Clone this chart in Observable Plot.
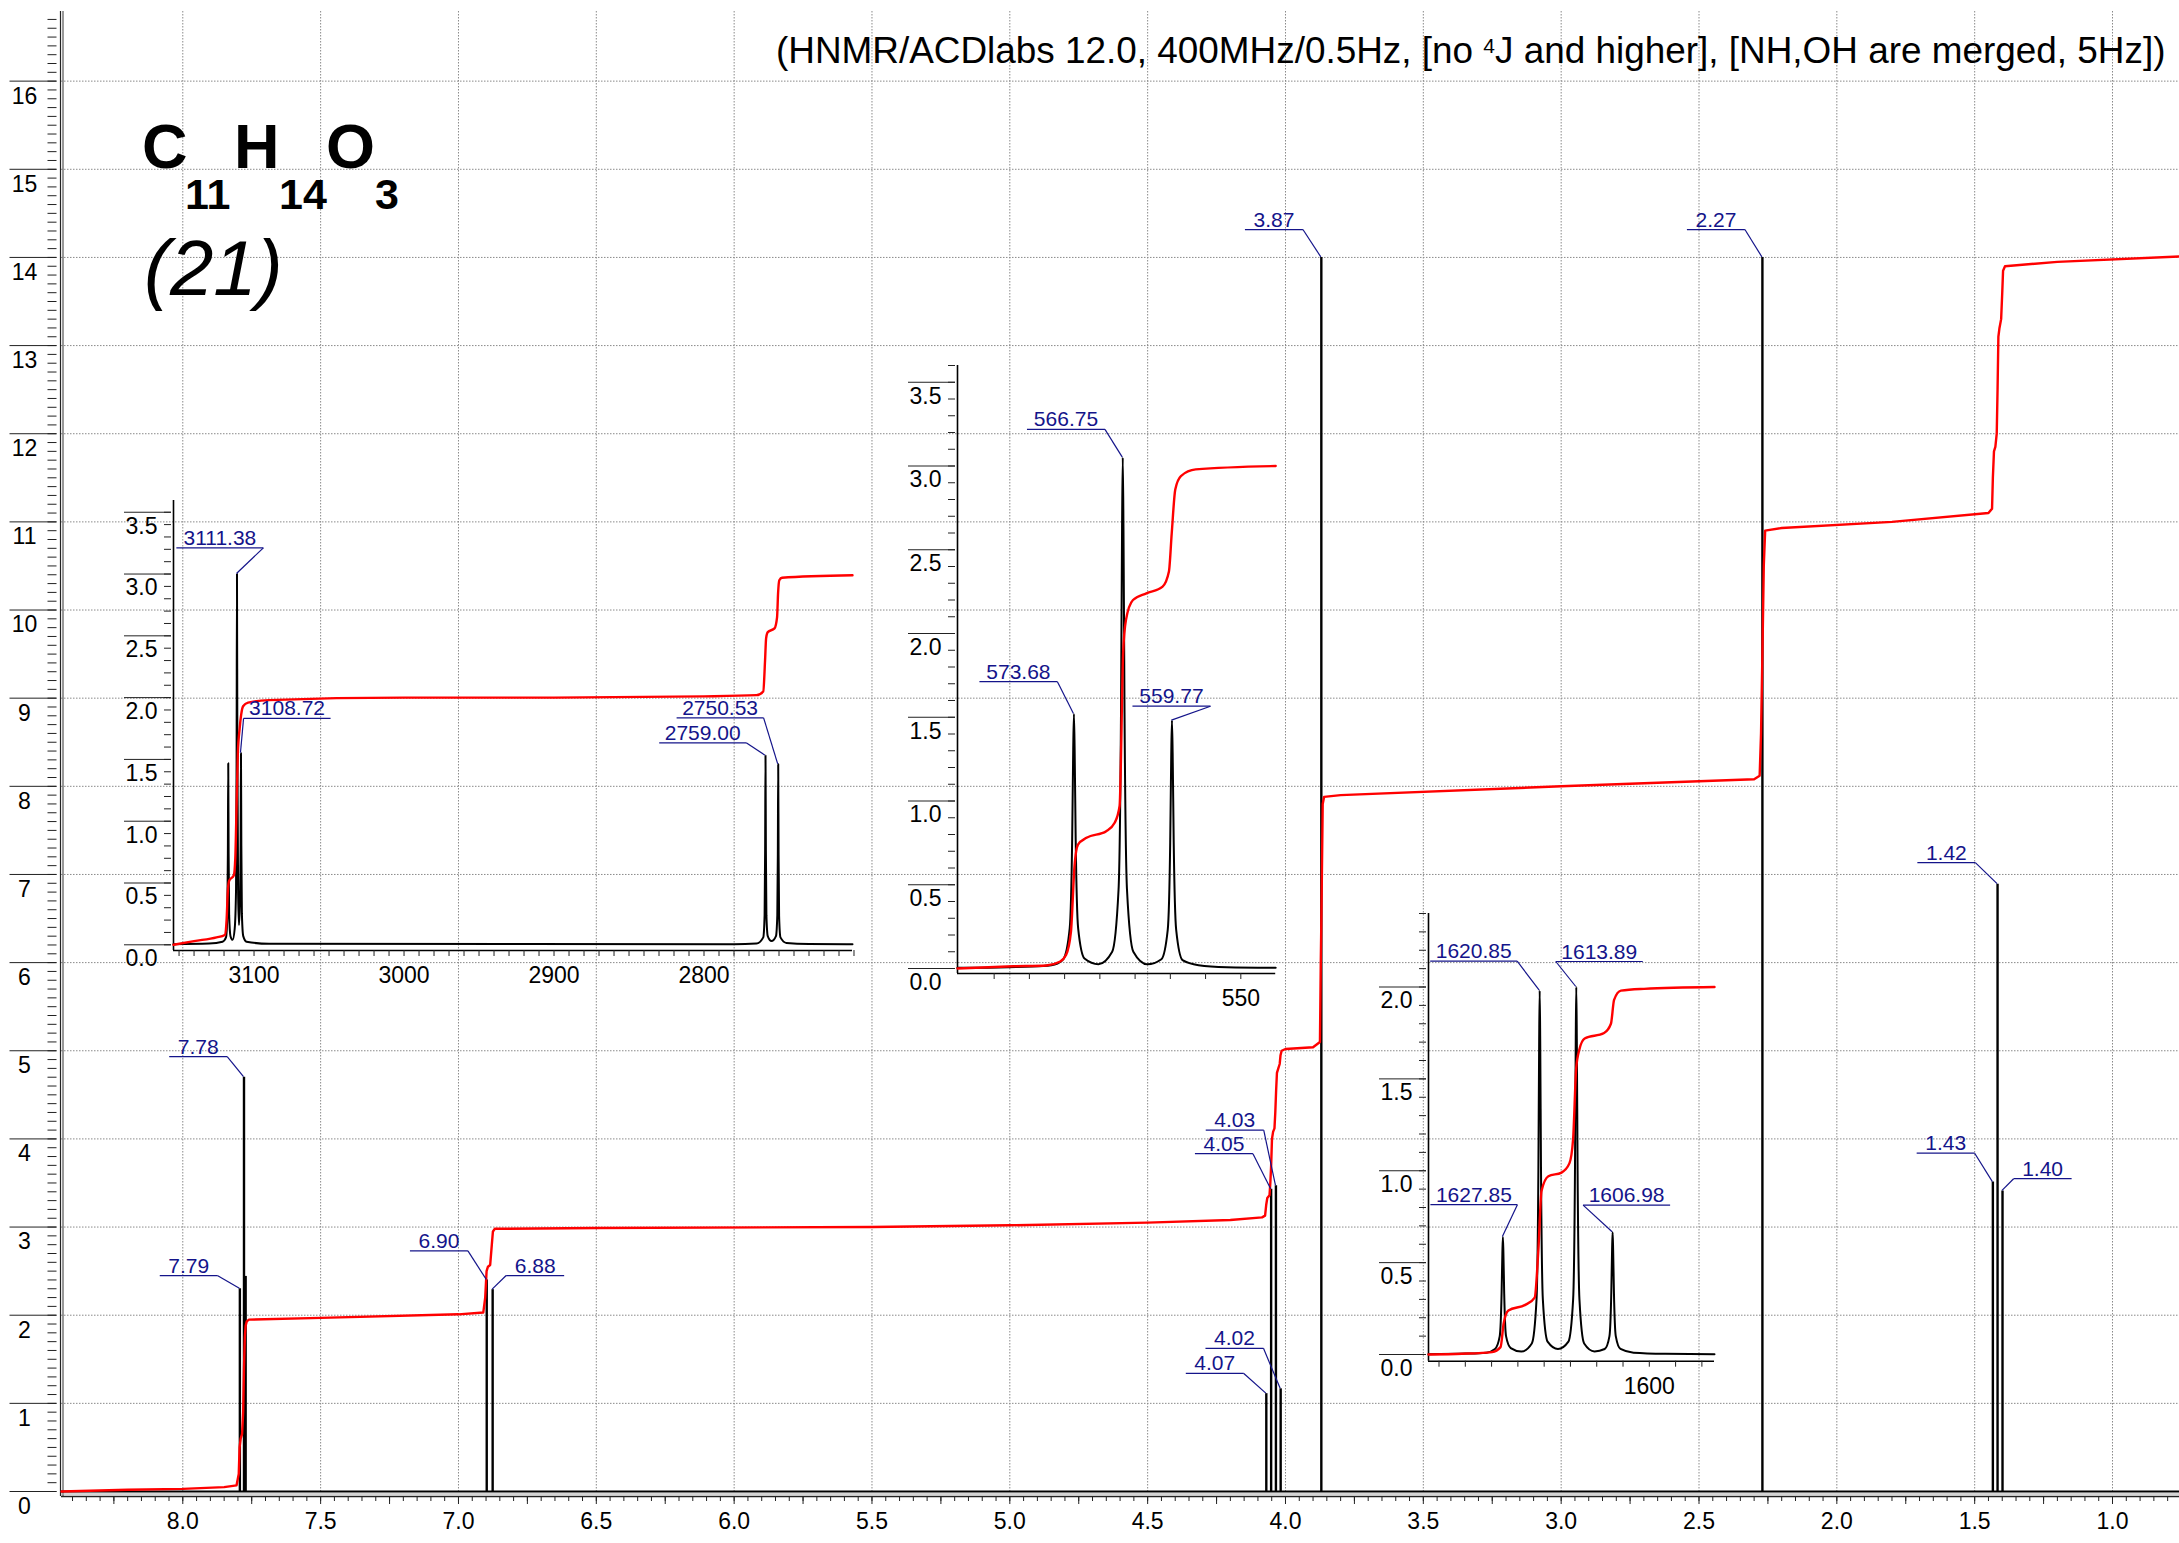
<!DOCTYPE html>
<html><head><meta charset="utf-8">
<script src="https://cdn.jsdelivr.net/npm/d3@7"></script>
<script src="https://cdn.jsdelivr.net/npm/@observablehq/plot@0.6"></script>
<style>
html,body{margin:0;padding:0;background:#fff;}
#wrap{position:relative;width:2179px;height:1543px;overflow:hidden;}
#wrap svg{position:absolute;}
</style></head><body><div id="wrap"></div>
<script>
const FONT = '"Liberation Sans", Arial, Helvetica, sans-serif';
const NAVY = "#14148a";
const TICKFONT = 23;

// ---------- main spectrum data (ppm) ----------
const mainShift  = [7.793, 7.778, 7.772, 6.8975, 6.876, 4.0696, 4.0521, 4.0347, 4.0175, 3.870, 2.270, 1.434, 1.417, 1.399];
const mainHeight = [2.30, 4.70, 2.44, 2.40, 2.29, 1.11, 3.43, 3.47, 1.165, 14.0, 14.0, 3.51, 6.89, 3.41];
const mainLabel  = ["7.79","7.78","","6.90","6.88","4.07","4.05","4.03","4.02","3.87","2.27","1.43","1.42","1.40"];

const integralShift = [8.44,8.2,8.0,7.85,7.805,7.797,7.794,7.79,7.785,7.781,7.778,7.775,7.772,7.768,7.76,7.5,7.0,6.91,6.903,6.898,6.893,6.885,6.879,6.875,6.868,6.5,5.5,5.0,4.5,4.2,4.085,4.074,4.07,4.066,4.058,4.055,4.052,4.049,4.045,4.04,4.037,4.034,4.031,4.026,4.021,4.018,4.014,4.0,3.9,3.875,3.872,3.870,3.868,3.865,3.86,3.8,3.0,2.3,2.28,2.275,2.27,2.265,2.26,2.2,1.8,1.45,1.437,1.434,1.43,1.425,1.42,1.417,1.414,1.41,1.404,1.40,1.397,1.39,1.2,0.757];
const integralValue = [0.0,0.02,0.03,0.05,0.07,0.2,0.5,0.6,0.65,0.9,1.4,1.75,1.88,1.93,1.95,1.97,2.01,2.03,2.2,2.5,2.55,2.57,2.8,2.95,2.98,2.99,3.0,3.02,3.05,3.08,3.11,3.13,3.25,3.33,3.36,3.5,3.7,4.0,4.08,4.12,4.3,4.55,4.75,4.8,4.85,4.95,5.0,5.02,5.04,5.1,6.0,6.45,7.0,7.8,7.88,7.9,8.0,8.08,8.12,8.6,9.5,10.5,10.9,10.93,11.0,11.1,11.15,11.5,11.8,11.85,12.0,12.5,13.1,13.2,13.3,13.6,13.85,13.9,13.95,14.01];

const xTickValues = [8.0,7.5,7.0,6.5,6.0,5.5,5.0,4.5,4.0,3.5,3.0,2.5,2.0,1.5,1.0];
const xTickLabels = ["8.0","7.5","7.0","6.5","6.0","5.5","5.0","4.5","4.0","3.5","3.0","2.5","2.0","1.5","1.0"];
const yTickValues = [0,1,2,3,4,5,6,7,8,9,10,11,12,13,14,15,16];
const yTickLabels = ["0","1","2","3","4","5","6","7","8","9","10","11","12","13","14","15","16"];

// label layout (pixel offsets of leader end from peak top, side of underline)
const mainLabelOffset = {
  "7.79":[-21.6,-12.6,"L"], "7.78":[-16.3,-20,"L"], "6.90":[-18.3,-28.6,"L"], "6.88":[14,-13.6,"R"],
  "4.07":[-22,-19.7,"L"], "4.05":[-17.7,-35,"L"], "4.03":[-11.7,-55,"L"], "4.02":[-16.7,-40,"L"],
  "3.87":[-17.9,-27.4,"L"], "2.27":[-17,-27.4,"L"], "1.43":[-17.7,-28.4,"L"], "1.42":[-21.7,-21,"L"], "1.40":[11.6,-11.7,"R"]
};

// ---------- inset 1 (Hz) ----------
const inset1TraceHz  = [3153.7,3130,3121,3118.7,3117.8,3117.45,3117.2,3116.95,3116.6,3115.7,3114.3,3112.9,3112.0,3111.63,3111.38,3111.13,3110.6,3110.05,3109.4,3108.97,3108.72,3108.47,3108.1,3107.2,3105,3090,2780,2765,2760.5,2759.6,2759.25,2759.0,2758.75,2758.4,2757.5,2755,2752.03,2751.13,2750.78,2750.53,2750.28,2749.93,2749.03,2745,2730,2701];
const inset1TraceVal = [0.005,0.01,0.025,0.06,0.24,0.74,1.47,0.74,0.24,0.07,0.04,0.13,0.45,1.5,3.0,1.6,0.4,0.16,0.35,0.8,1.55,0.8,0.25,0.07,0.025,0.008,0.005,0.01,0.06,0.24,0.77,1.53,0.77,0.24,0.07,0.03,0.07,0.24,0.73,1.46,0.73,0.23,0.06,0.015,0.006,0.004];
const inset1IntHz  = [3153.7,3140,3125,3119.5,3118.3,3117.4,3116.5,3113.5,3112.5,3111.6,3110.8,3109.6,3108.6,3107.3,3104,3090,3000,2900,2800,2765,2760.5,2759.3,2758.6,2757.5,2753,2751.3,2750.6,2749.8,2748,2701];
const inset1IntVal = [0.0,0.03,0.06,0.08,0.2,0.45,0.52,0.56,0.7,1.15,1.55,1.75,1.86,1.93,1.96,1.98,2.0,2.0,2.01,2.02,2.05,2.3,2.48,2.53,2.56,2.65,2.85,2.95,2.97,2.99];
const inset1PeakHz = [3111.38,3108.72,2759.00,2750.53];
const inset1PeakH  = [3.0,1.55,1.53,1.46];
const inset1Label  = ["3111.38","3108.72","2759.00","2750.53"];

// ---------- inset 2 (Hz) ----------
const inset2TraceHz  = [590.2,583,578,576,575.18,574.28,573.93,573.78,573.68,573.58,573.43,573.08,572.18,570.2,568.25,567.35,567.0,566.85,566.75,566.65,566.5,566.15,565.25,563.26,561.27,560.37,560.02,559.87,559.77,559.67,559.52,559.17,558.27,556,552,545.05];
const inset2TraceVal = [0.004,0.008,0.015,0.03,0.055,0.24,0.77,1.31,1.52,1.31,0.77,0.24,0.06,0.026,0.1,0.47,1.53,2.63,3.05,2.63,1.53,0.47,0.1,0.025,0.055,0.23,0.75,1.28,1.48,1.28,0.75,0.23,0.05,0.02,0.008,0.004];
const inset2IntHz  = [590.2,582.3,577.6,575.7,574.8,574.1,573.6,573.1,571.9,569.1,567.9,567.2,566.7,566.3,565.3,563.4,561.1,560.2,559.8,559.3,558.5,556.4,545.05];
const inset2IntVal = [0.0,0.013,0.018,0.04,0.08,0.22,0.61,0.74,0.78,0.82,0.87,0.97,1.88,2.08,2.2,2.24,2.28,2.37,2.6,2.86,2.94,2.98,3.0];
const inset2PeakHz = [573.68,566.75,559.77];
const inset2PeakH  = [1.52,3.05,1.48];
const inset2Label  = ["573.68","566.75","559.77"];

// ---------- inset 3 (Hz) ----------
const inset3TraceHz  = [1642.0,1635,1631,1629.35,1628.45,1628.1,1627.95,1627.85,1627.75,1627.6,1627.25,1626.35,1624.35,1622.35,1621.45,1621.1,1620.95,1620.85,1620.75,1620.6,1620.25,1619.35,1617.37,1615.39,1614.49,1614.14,1613.99,1613.89,1613.79,1613.64,1613.29,1612.39,1610.43,1608.48,1607.58,1607.23,1607.08,1606.98,1606.88,1606.73,1606.38,1605.48,1603,1597,1587.6];
const inset3TraceVal = [0.002,0.005,0.01,0.03,0.1,0.33,0.55,0.64,0.55,0.33,0.1,0.035,0.016,0.06,0.3,1.0,1.71,1.98,1.71,1.0,0.3,0.07,0.03,0.07,0.3,1.0,1.72,2.0,1.72,1.0,0.3,0.06,0.017,0.03,0.1,0.34,0.57,0.665,0.57,0.34,0.1,0.03,0.01,0.004,0.002];
const inset3IntHz  = [1642.0,1635.6,1629.9,1628.3,1627.7,1626.8,1623.6,1621.8,1621.1,1620.5,1619.2,1616.7,1615.2,1614.5,1613.9,1613.3,1612.3,1608.6,1607.3,1606.7,1605.4,1601,1587.6];
const inset3IntVal = [0.0,0.004,0.013,0.04,0.17,0.24,0.27,0.31,0.57,0.89,0.97,0.99,1.04,1.17,1.56,1.66,1.72,1.75,1.80,1.93,1.98,1.99,2.0];
const inset3PeakHz = [1627.85,1620.85,1613.89,1606.98];
const inset3PeakH  = [0.64,1.98,2.0,0.665];
const inset3Label  = ["1627.85","1620.85","1613.89","1606.98"];

const insetYMajor = [0,0.5,1,1.5,2,2.5,3,3.5];
const insetYLabels = ["0.0","0.5","1.0","1.5","2.0","2.5","3.0","3.5"];

// ---------- helpers ----------
const wrap = document.getElementById("wrap");

function peakLabels(items, offsets, ulLen, fontSize) {
  return (index, scales) => {
    const g = d3.create("svg:g");
    for (const p of items) {
      if (!p.label || !offsets[p.label]) continue;
      const o = offsets[p.label];
      const px = scales.x(p.x), py = scales.y(p.h);
      const ex = px + o[0], ey = py + o[1];
      const x1 = o[2] === "L" ? ex - ulLen : ex;
      const x2 = o[2] === "L" ? ex : ex + ulLen;
      g.append("line").attr("x1", x1).attr("x2", x2).attr("y1", ey).attr("y2", ey)
        .attr("stroke", NAVY).attr("stroke-width", 1.2);
      g.append("line").attr("x1", ex).attr("y1", ey).attr("x2", px).attr("y2", py)
        .attr("stroke", NAVY).attr("stroke-width", 1.2);
      g.append("text").attr("x", (x1 + x2) / 2).attr("y", ey - 3)
        .attr("text-anchor", "middle").attr("font-family", FONT).attr("font-size", fontSize)
        .attr("fill", NAVY).text(p.label);
    }
    return g.node();
  };
}

// ---------- main plot ----------
const mainPeaks = mainShift.map((x, i) => ({x, h: mainHeight[i], label: mainLabel[i]}));
const mainIntegral = integralShift.map((x, i) => ({x, y: integralValue[i]}));
const xMinor = d3.range(16, 169).map(i => i * 0.05);
const xMajor = d3.range(4, 34).map(i => i * 0.25);
const yMinor = d3.range(0, 168).map(i => i / 10);
const gridStyle = {stroke: "#8a8a8a", strokeWidth: 1, strokeDasharray: "1.5,1.5"};

const mainPlot = Plot.plot({
  width: 2179, height: 1543,
  marginLeft: 61, marginRight: 0, marginTop: 11, marginBottom: 52,
  style: {background: "transparent", fontFamily: FONT, fontSize: TICKFONT + "px", overflow: "visible"},
  x: {domain: [8.44, 0.757], axis: null, label: null},
  y: {domain: [0, 16.79], axis: null, label: null},
  marks: [
    Plot.ruleX(xTickValues, gridStyle),
    Plot.ruleY(yTickValues.filter(d => d > 0), gridStyle),
    Plot.ruleX([8.44], {stroke: "#222", strokeWidth: 1.2, dx: -1, insetBottom: -5}),
    Plot.ruleX([8.44], {stroke: "#555", strokeWidth: 1.2, dx: 1.5, insetBottom: -5}),
    Plot.ruleY([0], {stroke: "#aaa", strokeWidth: 1, dy: 2.5}),
    Plot.ruleY([0], {stroke: "#222", strokeWidth: 1.5, dy: 5}),
    Plot.axisY({ticks: yMinor, tickSize: 9, dx: -4.5, tickFormat: () => "", label: null, stroke: "#222"}),
    Plot.axisY({ticks: yTickValues, tickSize: 47, dx: -4.5, tickFormat: () => "", label: null, stroke: "#222"}),
    Plot.axisY({ticks: yTickValues, tickSize: 0, tickPadding: 37, textAnchor: "middle", dy: 15, label: null,
      tickFormat: d => yTickLabels[yTickValues.indexOf(d)], fontSize: TICKFONT, fill: "#000"}),
    Plot.axisX({ticks: xMinor, tickSize: 5, dy: 5, tickFormat: () => "", label: null, stroke: "#222"}),
    Plot.axisX({ticks: xMajor, tickSize: 8, dy: 5, tickFormat: () => "", label: null, stroke: "#222"}),
    Plot.axisX({ticks: xTickValues, tickSize: 0, tickPadding: 21, label: null,
      tickFormat: d => xTickLabels[xTickValues.indexOf(d)], fontSize: TICKFONT, fill: "#000"}),
    Plot.ruleY([0], {stroke: "#000", strokeWidth: 2}),
    Plot.ruleX(mainPeaks, {x: "x", y1: 0, y2: "h", stroke: "#000", strokeWidth: 2.4}),
    Plot.line(mainIntegral, {x: "x", y: "y", stroke: "#ff0000", strokeWidth: 2.4}),
    peakLabels(mainPeaks, mainLabelOffset, 58, 21)
  ]
});
mainPlot.style.left = "0px"; mainPlot.style.top = "0px";
wrap.appendChild(mainPlot);

// ---------- insets ----------
function drawInset(c) {
  const peaks = c.peakHz.map((x, i) => ({x, h: c.peakH[i], label: c.labels[i]}));
  const trace = c.traceHz.map((x, i) => ({x, y: c.traceVal[i]}));
  const integ = c.intHz.map((x, i) => ({x, y: c.intVal[i]}));
  const svg = Plot.plot({
    width: c.width, height: c.height,
    marginLeft: c.mL, marginRight: c.mR, marginTop: c.mT, marginBottom: c.mB,
    style: {background: "transparent", fontFamily: FONT, fontSize: TICKFONT + "px", overflow: "visible"},
    x: {domain: c.xDom, axis: null, label: null},
    y: {domain: c.yDom, axis: null, label: null},
    marks: [
      Plot.ruleX([c.xDom[0]], {stroke: "#000", strokeWidth: 1.6, insetBottom: -c.gap}),
      Plot.ruleY([0], {dy: c.gap, stroke: "#000", strokeWidth: 1.6}),
      Plot.axisY({ticks: c.yMinor, tickSize: 7, dx: -2, tickFormat: () => "", label: null, stroke: "#222"}),
      Plot.axisY({ticks: c.yMajor, tickSize: 47, dx: -2, tickFormat: () => "", label: null, stroke: "#222"}),
      Plot.axisY({ticks: c.yMajor, tickSize: 0, tickPadding: 32, textAnchor: "middle", dy: 14, label: null,
        tickFormat: d => c.yLabels[c.yMajor.indexOf(d)], fontSize: TICKFONT, fill: "#000"}),
      Plot.axisX({ticks: c.xTicks, tickSize: 6, dy: c.gap, tickFormat: () => "", label: null, stroke: "#222"}),
      Plot.axisX({ticks: c.xLabelVals, tickSize: 0, tickPadding: c.gap + 16, label: null,
        tickFormat: d => c.xLabels[c.xLabelVals.indexOf(d)], fontSize: TICKFONT, fill: "#000"}),
      Plot.line(trace, {x: "x", y: "y", stroke: "#000", strokeWidth: 2, curve: "monotone-x"}),
      Plot.line(integ, {x: "x", y: "y", stroke: "#ff0000", strokeWidth: 2.4, curve: "monotone-x"}),
      peakLabels(peaks, c.offsets, c.ul, 21)
    ]
  });
  svg.style.left = c.left + "px"; svg.style.top = c.top + "px";
  wrap.appendChild(svg);
}

drawInset({
  left: 100, top: 480, width: 780, height: 530, mL: 73, mR: 28, mT: 20, mB: 65.7, gap: 5.7,
  xDom: [3153.7, 2701], yDom: [0, 3.595],
  traceHz: inset1TraceHz, traceVal: inset1TraceVal, intHz: inset1IntHz, intVal: inset1IntVal,
  peakHz: inset1PeakHz, peakH: inset1PeakH, labels: inset1Label,
  offsets: {"3111.38":[26.9,-25.7,"L"], "3108.72":[3.1,-34.4,"R"], "2759.00":[-18.8,-12.4,"L"], "2750.53":[-14.1,-46,"L"]},
  ul: 87,
  yMajor: insetYMajor, yLabels: insetYLabels, yMinor: d3.range(0, 36).map(i => i / 10),
  xTicks: d3.range(0, 46).map(i => 3150 - i * 10), xLabelVals: [3100, 3000, 2900, 2800], xLabels: ["3100","3000","2900","2800"]
});

drawInset({
  left: 880, top: 340, width: 420, height: 700, mL: 77, mR: 24.8, mT: 25, mB: 72, gap: 5,
  xDom: [590.2, 545.05], yDom: [0, 3.6],
  traceHz: inset2TraceHz, traceVal: inset2TraceVal, intHz: inset2IntHz, intVal: inset2IntVal,
  peakHz: inset2PeakHz, peakH: inset2PeakH, labels: inset2Label,
  offsets: {"573.68":[-16,-31.7,"L"], "566.75":[-17.3,-27.8,"L"], "559.77":[39,-13.9,"L"]},
  ul: 78,
  yMajor: insetYMajor, yLabels: insetYLabels, yMinor: d3.range(0, 37).map(i => i / 10),
  xTicks: [585, 580, 575, 570, 565, 560, 555, 550], xLabelVals: [550], xLabels: ["550"]
});

drawInset({
  left: 1360, top: 890, width: 380, height: 530, mL: 68, mR: 26, mT: 23, mB: 66, gap: 6.7,
  xDom: [1642.0, 1587.6], yDom: [0, 2.4],
  traceHz: inset3TraceHz, traceVal: inset3TraceVal, intHz: inset3IntHz, intVal: inset3IntVal,
  peakHz: inset3PeakHz, peakH: inset3PeakH, labels: inset3Label,
  offsets: {"1627.85":[15,-31.7,"L"], "1620.85":[-22,-29,"L"], "1613.89":[-20,-25,"R"], "1606.98":[-29,-26.7,"R"]},
  ul: 87,
  yMajor: [0, 0.5, 1, 1.5, 2], yLabels: ["0.0","0.5","1.0","1.5","2.0"], yMinor: d3.range(0, 25).map(i => i / 10),
  xTicks: [1640, 1635, 1630, 1625, 1620, 1615, 1610, 1605, 1600, 1595, 1590], xLabelVals: [1600], xLabels: ["1600"]
});

// ---------- title and formula (text) ----------
const ns = "http://www.w3.org/2000/svg";
const ov = document.createElementNS(ns, "svg");
ov.setAttribute("width", 2179); ov.setAttribute("height", 330);
ov.style.left = "0px"; ov.style.top = "0px";
ov.innerHTML = `
<g font-family='${FONT}' fill="#000">
  <text x="776" y="63" font-size="36.9">(HNMR/ACDlabs 12.0, 400MHz/0.5Hz, [no <tspan font-size="21" dy="-10">4</tspan><tspan dy="10">J and higher], [NH,OH are merged, 5Hz])</tspan></text>
  <text font-weight="bold" font-size="63">
    <tspan x="142" y="168">C</tspan><tspan x="185" y="209" font-size="43">11</tspan><tspan x="234" y="168">H</tspan><tspan x="279" y="209" font-size="43">14</tspan><tspan x="326" y="168">O</tspan><tspan x="375" y="209" font-size="43">3</tspan>
  </text>
  <text x="144" y="295" font-size="78" font-style="italic">(21)</text>
</g>`;
wrap.appendChild(ov);
</script></body></html>
